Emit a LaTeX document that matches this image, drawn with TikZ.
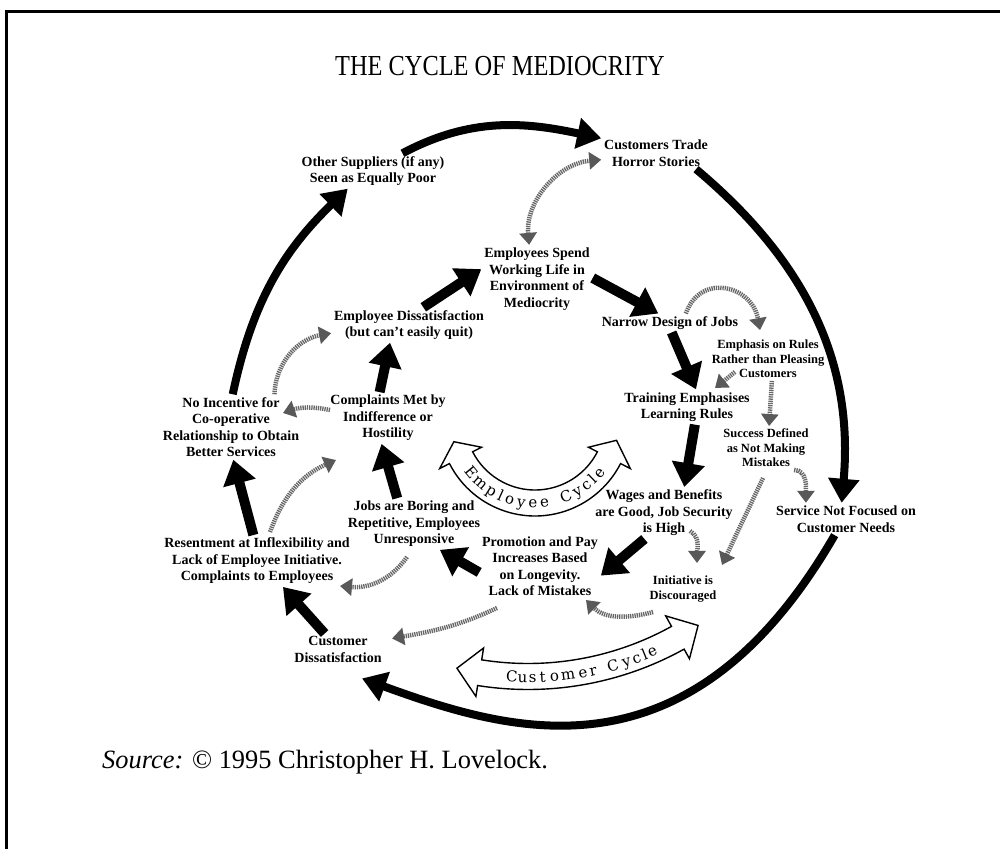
\documentclass[tikz,border=0pt]{standalone}
\usepackage{fontspec}
\setmainfont{Liberation Serif}
\newfontfamily\titlefont[FakeStretch=0.84]{Liberation Serif}
\newfontfamily\cyclefont{DejaVu Serif}
\usetikzlibrary{arrows.meta}

\tikzset{
  hatchtip/.tip={Triangle[length=12pt,width=17pt,color=black!65]},
  lbl/.style={align=center, inner sep=3pt, outer sep=0pt,
    font=\fontsize{14}{16.5}\selectfont\bfseries},
  lblsmall/.style={lbl, font=\fontsize{12.5}{14.5}\selectfont\bfseries},
  loop arrow/.style={line width=8pt, -{Triangle[length=24pt,width=30pt]}},
  chain arrow/.style={line width=10pt, -{Triangle[length=24pt,width=32pt]}},
  hatch/.style={line width=4.5pt, draw=black!60, dash pattern=on 1.3pt off 0.9pt, -hatchtip},
  hatch both/.style={hatch, hatchtip-hatchtip},
  band/.style={draw=black, line width=1.4pt, fill=white, line join=miter},
  cyc/.style={font=\cyclefont\fontsize{15}{18}\selectfont, inner sep=0pt, anchor=base}
}

\begin{document}
\begin{tikzpicture}[x=1pt,y=1pt]
\useasboundingbox (0,0) rectangle (1000,848);

% page frame
\draw[line width=3pt] (6,-2) -- (6,836) -- (1002,836);

% title and source line
\node[font=\titlefont\fontsize{29}{34}\selectfont] (title) at (500,781.5) {THE CYCLE OF MEDIOCRITY};
\node[anchor=base west, inner sep=0pt, font=\fontsize{26.4}{30}\selectfont] (source) at (102,80)
  {\textit{Source:} © 1995 Christopher H. Lovelock.};

% statements
\node[lbl] (trade) at (656,695) {Customers Trade\\Horror Stories};
\node[lbl] (other) at (373,677) {Other Suppliers (if any)\\Seen as Equally Poor};
\node[lbl] (spend) at (537,569) {Employees Spend\\Working Life in\\Environment of\\Mediocrity};
\node[lbl] (narrow) at (670,525) {Narrow Design of Jobs};
\node[lblsmall] (emph) at (768,489) {Emphasis on Rules\\Rather than Pleasing\\Customers};
\node[lbl] (training) at (687,441) {Training Emphasises\\Learning Rules};
\node[lblsmall] (success) at (766,400) {Success Defined\\as Not Making\\Mistakes};
\node[lbl] (wages) at (664,335) {Wages and Benefits\\are Good, Job Security\\is High};
\node[lbl] (service) at (846,329) {Service Not Focused on\\Customer Needs};
\node[lblsmall] (initiative) at (683,259) {Initiative is\\Discouraged};
\node[lbl] (promotion) at (540,282) {Promotion and Pay\\Increases Based\\on Longevity.\\Lack of Mistakes};
\node[lbl] (jobs) at (414,324) {Jobs are Boring and\\Repetitive, Employees\\Unresponsive};
\node[lbl] (resent) at (257,287) {Resentment at Inflexibility and\\Lack of Employee Initiative.\\Complaints to Employees};
\node[lbl] (custdis) at (338,198.5) {Customer\\Dissatisfaction};
\node[lbl] (noinc) at (231,421) {No Incentive for\\Co-operative\\Relationship to Obtain\\Better Services};
\node[lbl] (complaints) at (388,430) {Complaints Met by\\Indifference or\\Hostility};
\node[lbl] (empdis) at (409,523) {Employee Dissatisfaction\\(but can't easily quit)};

% curved double-headed cycle bands
\coordinate (ec) at (535,428);
\coordinate (cc) at (528,480.5);
\draw[band] ([shift={(207:96)}]ec) arc[start angle=207,end angle=333,radius=96]
  -- ([shift={(333:107)}]ec) -- ([shift={(346:84)}]ec) -- ([shift={(333:60)}]ec)
  -- ([shift={(333:70)}]ec) arc[start angle=333,end angle=207,radius=70]
  -- ([shift={(207:60)}]ec) -- ([shift={(195:84)}]ec) -- ([shift={(207:107)}]ec) -- cycle;
\draw[band] ([shift={(261:322)}]cc) arc[start angle=261,end angle=299,radius=322]
  -- ([shift={(299:333)}]cc) -- ([shift={(303.4:309)}]cc) -- ([shift={(299:284)}]cc)
  -- ([shift={(299:296)}]cc) arc[start angle=299,end angle=261,radius=296]
  -- ([shift={(261:284)}]cc) -- ([shift={(256.7:309)}]cc) -- ([shift={(261:333)}]cc) -- cycle;

% lettering along the bands
\foreach \a/\c in {219.5/E,229/m,238.5/p,245.5/l,252.5/o,260.5/y,268.5/e,276.5/e,
                   292/C,300.5/y,308/c,314/l,320.5/e}
  \node[cyc, rotate=\a+90] at ([shift={(\a:88)}]ec) {\c};
\foreach \a/\c in {267/C,269/u,270.85/s,272.7/t,274.9/o,277.4/m,280.2/e,282.1/r,
                   285.9/C,288.5/y,290.5/c,292.1/l,293.6/e}
  \node[cyc, rotate=\a+90] at ([shift={(\a:315)}]cc) {\c};

% employee cycle
\draw[chain arrow] (empdis.51) -- (spend.170);
\draw[chain arrow] (spend.1) -- (narrow.141);
\draw[chain arrow] (narrow.-80) -- (training.63);
\draw[chain arrow] (training.-66) -- (wages.52);
\draw[chain arrow] (wages.-127) -- (promotion.-9);
\draw[chain arrow] (promotion.186) -- (jobs.-45);
\draw[chain arrow] (jobs.123) -- (complaints.-104);
\draw[chain arrow] (complaints.108) -- (empdis.-137);

% customer cycle
\draw[chain arrow] (custdis.130) -- (resent.-45);
\draw[chain arrow] (resent.98) -- (noinc.-86);
\draw[loop arrow] (noinc.87) to[out=78,in=224] (other.215);
\draw[loop arrow] (other.31) to[out=28,in=168] (trade.165);
\draw[loop arrow] (trade.-22) to[out=-40,in=85] (service.105);
\draw[loop arrow] (service.-125) to[out=240,in=-20,out distance=290pt,in distance=160pt]
  ([xshift=24pt,yshift=-13pt]custdis.south);

% cross links between the two cycles
\draw[hatch both] (spend.103) to[out=95,in=185] (trade.187);
\draw[hatch] (narrow.31) to[out=70,in=100,looseness=1.5] ([yshift=7pt]emph.110);
\draw[hatch] ([shift={(-33pt,-13pt)}]emph.center) -- ([shift={(28pt,19pt)}]training.center);
\draw[hatch] (emph.-80) -- (success.82);
\draw[hatch] (success.-38) to[out=0,in=90] (service.158);
\draw[hatch] ([shift={(26pt,-18pt)}]wages.center) to[out=-30,in=90] ([shift={(14pt,26pt)}]initiative.center);
\draw[hatch] ([shift={(-3pt,-30pt)}]success.center) to[out=-115,in=65] ([shift={(39pt,24pt)}]initiative.center);
\draw[hatch] ([shift={(-30pt,-23pt)}]initiative.center) to[out=195,in=-45] ([shift={(46pt,-34pt)}]promotion.center);
\draw[hatch] ([shift={(-43pt,-42pt)}]promotion.center) to[out=205,in=10] ([shift={(54pt,11pt)}]custdis.center);
\draw[hatch] ([shift={(-7pt,-33pt)}]jobs.center) to[out=235,in=-5] ([shift={(83pt,-25pt)}]resent.center);
\draw[hatch] ([shift={(13pt,29pt)}]resent.center) to[out=70,in=204] ([shift={(-52pt,-42pt)}]complaints.center);
\draw[hatch] ([shift={(-58pt,8pt)}]complaints.center) to[bend right=15] ([shift={(52pt,14pt)}]noinc.center);
\draw[hatch] (noinc.37) to[out=88,in=190] (empdis.186);
\end{tikzpicture}
\end{document}
